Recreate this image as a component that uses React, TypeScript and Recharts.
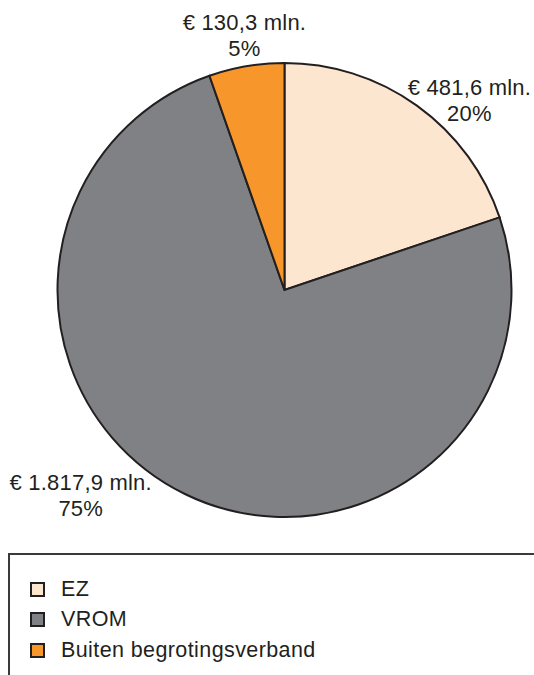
import React from "react";
import { PieChart, Pie, Cell, Legend } from "recharts";

const categories = ["EZ", "VROM", "Buiten begrotingsverband"];
const amounts = [481.6, 1817.9, 130.3];
const amountLabels = ["€ 481,6 mln.", "€ 1.817,9 mln.", "€ 130,3 mln."];
const percentLabels = ["20%", "75%", "5%"];
const colors = ["#fde6cf", "#808184", "#f7972b"];

const data = categories.map((name, i) => ({
  name,
  value: amounts[i],
  amount: amountLabels[i],
  pct: percentLabels[i],
}));

const TEXT = "#231f20";
const FONT = "'Liberation Sans', Arial, sans-serif";
const RAD = Math.PI / 180;
const nudges = [
  [35, 19],
  [-91, -26],
  [3, -1],
];

const renderLabel = (props: any) => {
  const { cx, cy, midAngle, outerRadius, index, payload } = props;
  const r = outerRadius + 30;
  const x = cx + r * Math.cos(-midAngle * RAD) + nudges[index][0];
  const y = cy + r * Math.sin(-midAngle * RAD) + nudges[index][1];
  return (
    <text
      x={x}
      y={y}
      textAnchor="middle"
      fill={TEXT}
      fontFamily={FONT}
      fontSize={22}
      letterSpacing={0.2}
    >
      <tspan x={x} y={y - 13} dy="0.35em">
        {payload.amount}
      </tspan>
      <tspan x={x} y={y + 13} dy="0.35em">
        {payload.pct}
      </tspan>
    </text>
  );
};

const LegendContent = () => (
  <div
    style={{
      borderTop: "2px solid #3a3a3a",
      borderLeft: "2px solid #3a3a3a",
      width: 540,
      height: 130,
      boxSizing: "border-box",
      paddingTop: 19,
      paddingLeft: 20,
      fontFamily: FONT,
      fontSize: 21.5,
      letterSpacing: 0.4,
      color: TEXT,
    }}
  >
    {data.map((d, i) => (
      <div
        key={d.name}
        style={{ display: "flex", alignItems: "center", height: 30.5 }}
      >
        <span
          style={{
            display: "inline-block",
            width: 15,
            height: 15,
            boxSizing: "border-box",
            background: colors[i],
            border: `2.5px solid ${TEXT}`,
            marginRight: 16,
          }}
        />
        <span>{d.name}</span>
      </div>
    ))}
  </div>
);

export default function App() {
  return (
    <div style={{ position: "absolute", left: 0, top: 0, width: 534, height: 675, background: "#fff", overflow: "hidden" }}>
      <PieChart width={534} height={675} margin={{ top: 0, right: 0, bottom: 0, left: 0 }}>
        <Pie
          data={data}
          dataKey="value"
          nameKey="name"
          cx={284.5}
          cy={290}
          outerRadius={227}
          startAngle={90}
          endAngle={-270}
          stroke={TEXT}
          strokeWidth={2}
          label={renderLabel}
          labelLine={false}
          isAnimationActive={false}
        >
          {data.map((d, i) => (
            <Cell key={d.name} fill={colors[i]} />
          ))}
        </Pie>
        <Legend
          content={<LegendContent />}
          wrapperStyle={{ position: "absolute", left: 8, top: 553, width: 540, height: 130 }}
        />
      </PieChart>
    </div>
  );
}
